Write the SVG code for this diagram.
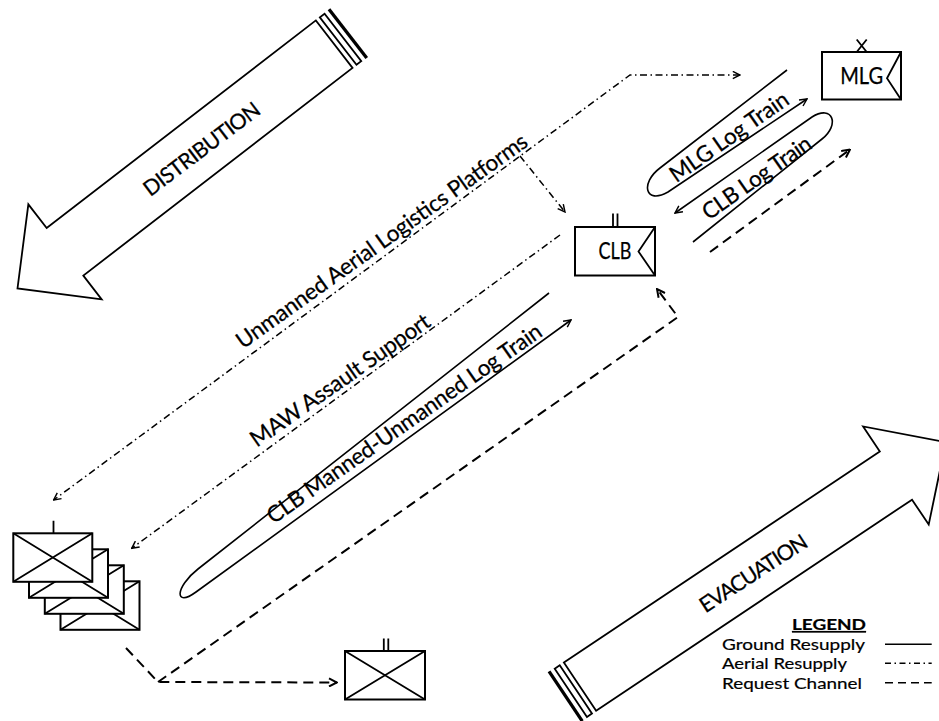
<svg xmlns="http://www.w3.org/2000/svg" width="939" height="721" viewBox="0 0 939 721">
<style>
text{font-family:Lato,'Open Sans','DejaVu Sans',sans-serif;fill:#000}
.lbl{font-size:22.5px;stroke:#000;stroke-width:0.25}
.cap{font-size:21.5px}
.leg{font-size:15.8px;stroke:#000;stroke-width:0.2}
.box{fill:#fff;stroke:#000;stroke-width:2}
.sym{fill:none;stroke:#000;stroke-width:1.8}
.big{fill:#fff;stroke:#000;stroke-width:1.8}
.gr{fill:none;stroke:#000;stroke-width:1.6}
.ae{fill:none;stroke:#000;stroke-width:1.5;stroke-dasharray:7 3.5 1.5 3.5}
.rq{fill:none;stroke:#000;stroke-width:2;stroke-dasharray:10 6}
</style>
<defs>
<marker id="ah" viewBox="0 0 10 10" refX="9" refY="5" markerWidth="9" markerHeight="9" markerUnits="userSpaceOnUse" orient="auto-start-reverse"><path d="M1,1 L9,5 L1,9" fill="none" stroke="#000" stroke-width="1.6"/></marker>
<marker id="ahb" viewBox="0 0 10 10" refX="9" refY="5" markerWidth="10" markerHeight="10" markerUnits="userSpaceOnUse" orient="auto-start-reverse"><path d="M1,1 L9,5 L1,9" fill="none" stroke="#000" stroke-width="2"/></marker>
</defs>
<rect width="939" height="721" fill="#fff"/>

<g id="distribution-arrow">
<g transform="translate(334.2,44.15) rotate(142.35)">
<polygon class="big" points="0,30 340,30 340,60 400,0 340,-60 340,-30 0,-30"/>
<rect class="big" x="-11" y="-30" width="6" height="60"/>
<rect class="big" x="-18" y="-30" width="1.5" height="60"/>
</g>
<text class="lbl cap" transform="translate(201.7,149) rotate(-37)" text-anchor="middle" dy="0.35em" textLength="140">DISTRIBUTION</text>
</g>

<g id="evacuation-arrow">
<g transform="translate(580,686.7) rotate(-33.76)">
<polygon class="big" points="0,-29 380,-29 380,-59 440,0 380,59 380,29 0,29"/>
<rect class="big" x="-11" y="-29" width="6" height="58"/>
<rect class="big" x="-18" y="-29" width="1.5" height="58"/>
</g>
<text class="lbl cap" transform="translate(753.3,573.3) rotate(-33)" text-anchor="middle" dy="0.35em" textLength="124">EVACUATION</text>
</g>

<g id="connectors">
<path class="ae" d="M740,75 L630,75 L53.6,500" marker-start="url(#ah)" marker-end="url(#ah)"/>
<path class="ae" d="M520,156 L565,212" marker-end="url(#ah)"/>
<path class="ae" d="M560,235 L131.7,548.3" marker-end="url(#ah)"/>
<path class="gr" d="M549,293 L198,569 C175,587 174,608 196,592 L571,320" marker-end="url(#ah)"/>
<path class="gr" d="M787,70 L660,168 C640,183 645,205 668,192 L807,99" marker-end="url(#ah)"/>
<path class="gr" d="M693,242 L822,139 C840,125 833,104 812,117 L675,213" marker-end="url(#ah)"/>
<path class="rq" d="M126,648 L158,682 L337,682.5" marker-end="url(#ahb)"/>
<path class="rq" d="M158,682 L678,317 L657,289" marker-end="url(#ahb)"/>
<path class="rq" d="M710,252 L850,149.5" marker-end="url(#ahb)"/>
<text class="lbl" transform="translate(381.7,240.8) rotate(-35.5)" text-anchor="middle" dy="0.35em" textLength="352">Unmanned Aerial Logistics Platforms</text>
<text class="lbl" transform="translate(340,380) rotate(-35)" text-anchor="middle" dy="0.35em" textLength="214">MAW Assault Support</text>
<text class="lbl" transform="translate(404.2,423.3) rotate(-35)" text-anchor="middle" dy="0.35em" textLength="330">CLB Manned-Unmanned Log Train</text>
<text class="lbl" transform="translate(729,136.7) rotate(-35)" text-anchor="middle" dy="0.35em" textLength="140">MLG Log Train</text>
<text class="lbl" transform="translate(756.7,177.5) rotate(-35)" text-anchor="middle" dy="0.35em" textLength="128">CLB Log Train</text>
</g>

<g id="mlg">
<rect class="box" x="822" y="52" width="79" height="47.5"/>
<path class="sym" d="M901,52 L887,78.3 L901,99.5"/>
<path class="sym" d="M856.7,39.5 L866.7,52 M866.7,39.5 L856.7,52"/>
<text class="lbl" x="861.7" y="84" text-anchor="middle" font-size="21" textLength="43" lengthAdjust="spacingAndGlyphs">MLG</text>
</g>

<g id="clb">
<rect class="box" x="575" y="227" width="80" height="48.5"/>
<path class="sym" d="M655,227 L638.5,251.5 L655,275.5"/>
<path class="sym" d="M613,213.5 V227 M617.5,213.5 V227"/>
<text class="lbl" x="615" y="259.3" text-anchor="middle" font-size="21" textLength="33" lengthAdjust="spacingAndGlyphs">CLB</text>
</g>

<g id="units-stack">
<g id="unit-4"><rect class="box" x="60.5" y="581.3" width="79" height="48.5"/><path class="sym" d="M60.5,581.3 L139.5,629.8 M139.5,581.3 L60.5,629.8"/></g>
<g id="unit-3"><rect class="box" x="44.8" y="565.3" width="79" height="48.5"/><path class="sym" d="M44.8,565.3 L123.8,613.8 M123.8,565.3 L44.8,613.8"/></g>
<g id="unit-2"><rect class="box" x="29" y="549.3" width="79" height="48.5"/><path class="sym" d="M29,549.3 L108,597.8 M108,549.3 L29,597.8"/></g>
<g id="unit-1"><rect class="box" x="13.3" y="533.3" width="79" height="48.5"/><path class="sym" d="M13.3,533.3 L92.3,581.8 M92.3,533.3 L13.3,581.8 M53.5,520.7 V533.3"/></g>
</g>

<g id="company">
<rect class="box" x="345" y="651" width="80" height="48.5"/>
<path class="sym" d="M345,651 L425,699.5 M425,651 L345,699.5 M383.8,638.5 V651 M388.3,638.5 V651"/>
</g>

<g id="legend">
<text class="leg" x="792" y="630" font-size="17" font-weight="bold" text-decoration="underline" textLength="74" lengthAdjust="spacingAndGlyphs">LEGEND</text>
<text class="leg" x="722" y="650" textLength="143" lengthAdjust="spacingAndGlyphs">Ground Resupply</text>
<text class="leg" x="722" y="669" textLength="125" lengthAdjust="spacingAndGlyphs">Aerial Resupply</text>
<text class="leg" x="722" y="688.5" textLength="140" lengthAdjust="spacingAndGlyphs">Request Channel</text>
<path class="gr" d="M885,644.3 H931.7"/>
<path class="ae" d="M885,663.3 H931.7" style="stroke-dasharray:6 3.5 1.5 3.5"/>
<path class="rq" d="M885,682.7 H931.7" style="stroke-dasharray:8 5;stroke-width:1.6"/>
</g>
</svg>
